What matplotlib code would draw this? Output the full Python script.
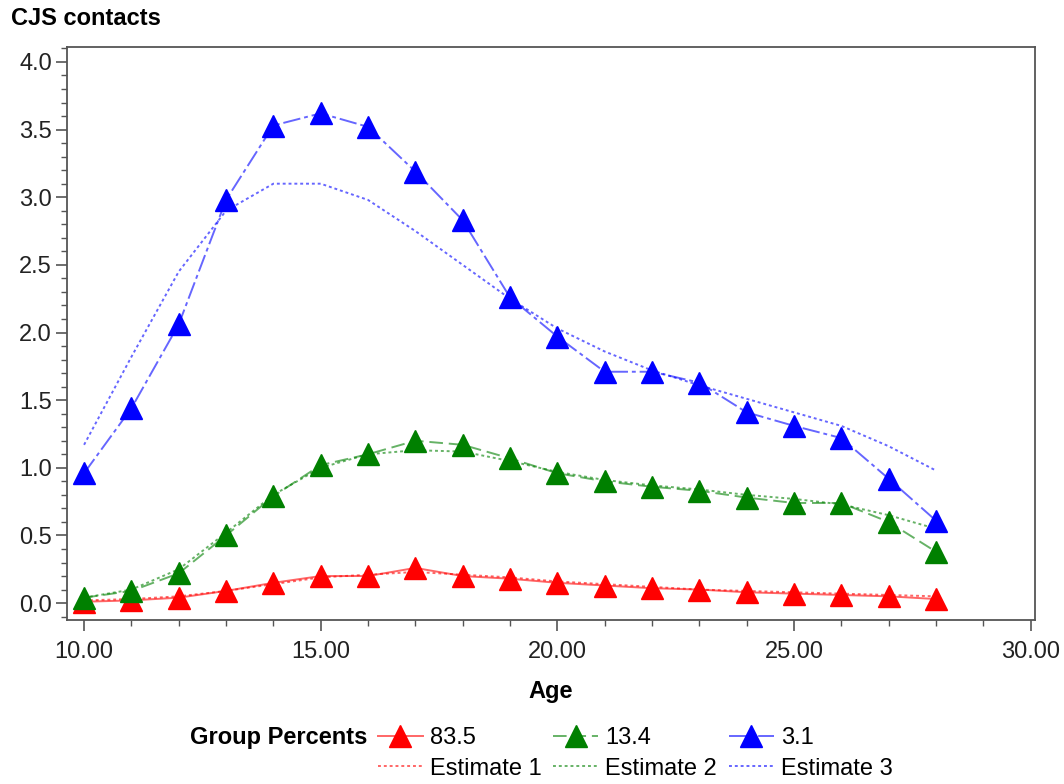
import matplotlib
matplotlib.use("Agg")
import matplotlib.pyplot as plt
from matplotlib.lines import Line2D
from matplotlib.ticker import MultipleLocator, FormatStrFormatter

plt.rcParams['font.family'] = ['Liberation Sans', 'DejaVu Sans']

age = [10, 11, 12, 13, 14, 15, 16, 17, 18, 19, 20, 21, 22, 23, 24, 25, 26, 27, 28]

# observed group trajectories
obs_835 = [0.01, 0.02, 0.04, 0.09, 0.15, 0.20, 0.20, 0.26, 0.20, 0.18, 0.15, 0.13,
           0.11, 0.10, 0.08, 0.07, 0.06, 0.05, 0.03]
obs_134 = [0.04, 0.09, 0.22, 0.50, 0.79, 1.02, 1.10, 1.20, 1.17, 1.07, 0.96, 0.90,
           0.86, 0.83, 0.78, 0.74, 0.74, 0.60, 0.38]
obs_31 = [0.96, 1.44, 2.06, 2.98, 3.53, 3.62, 3.52, 3.19, 2.83, 2.26, 1.97, 1.71,
          1.71, 1.63, 1.41, 1.31, 1.22, 0.92, 0.61]

# model estimates
est_1 = [0.02, 0.03, 0.05, 0.09, 0.14, 0.19, 0.21, 0.23, 0.21, 0.19, 0.16, 0.14,
         0.12, 0.10, 0.09, 0.08, 0.07, 0.06, 0.05]
est_2 = [0.04, 0.10, 0.25, 0.52, 0.80, 1.00, 1.10, 1.13, 1.12, 1.05, 0.97, 0.91,
         0.87, 0.84, 0.80, 0.77, 0.73, 0.65, 0.55]
est_3 = [1.17, 1.82, 2.45, 2.90, 3.10, 3.10, 2.98, 2.75, 2.50, 2.25, 2.03, 1.86,
         1.72, 1.61, 1.51, 1.41, 1.31, 1.16, 0.98]

group_labels = ["83.5", "13.4", "3.1"]
est_labels = ["Estimate 1", "Estimate 2", "Estimate 3"]

colors = [(1.0, 0.0, 0.0), (0.0, 0.5, 0.0), (0.0, 0.0, 1.0)]
obs_styles = ['-', (0, (7, 3)), (0, (9, 2, 2, 2))]
line_alpha = 0.6
FS = 17

fig = plt.figure(figsize=(10.64, 7.84), dpi=100)
ax = fig.add_axes([0.063, 0.209, 0.910, 0.731])

# estimates (dotted) first, observed on top
for est, c in zip([est_1, est_2, est_3], colors):
    ax.plot(age, est, color=c + (line_alpha,), linestyle=(0, (1.5, 1.5)), linewidth=1.4)

for obs, c, ls in zip([obs_835, obs_134, obs_31], colors, obs_styles):
    ax.plot(age, obs, color=c + (line_alpha,), linestyle=ls, linewidth=1.4)
    ax.plot(age, obs, linestyle='none', marker='^', markersize=16,
            markerfacecolor=c, markeredgecolor=c)

ax.set_xlim(9.64, 30.1)
ax.set_ylim(-0.126, 4.11)
ax.xaxis.set_major_locator(MultipleLocator(5))
ax.xaxis.set_minor_locator(MultipleLocator(1))
ax.yaxis.set_major_locator(MultipleLocator(0.5))
ax.yaxis.set_minor_locator(MultipleLocator(0.1))
ax.xaxis.set_major_formatter(FormatStrFormatter('%.2f'))
ax.yaxis.set_major_formatter(FormatStrFormatter('%.1f'))

tick_col = '#555555'
ax.tick_params(which='major', direction='out', length=8, width=1.2, color=tick_col,
               labelsize=FS, labelcolor='#222222', pad=3)
ax.tick_params(which='minor', direction='out', length=4, width=1.0, color=tick_col)
ax.tick_params(axis='x', which='major', pad=7)
for s in ax.spines.values():
    s.set_color('#555555')
    s.set_linewidth(1.3)

ax.set_xlabel('Age', fontsize=FS, fontweight='bold', labelpad=12)
fig.text(0.010, 0.977, 'CJS contacts', fontsize=17, fontweight='bold',
         ha='left', va='center')

# legend: observed groups in first row, estimates in second row
leg_handles = []
leg_labels = []
for i in range(3):
    leg_handles.append(Line2D([], [], color=colors[i] + (line_alpha,), linestyle=obs_styles[i],
                              linewidth=1.4, marker='^', markersize=16,
                              markerfacecolor=colors[i], markeredgecolor=colors[i]))
    leg_labels.append(group_labels[i])
    leg_handles.append(Line2D([], [], color=colors[i] + (line_alpha,),
                              linestyle=(0, (1.5, 1.5)), linewidth=1.4))
    leg_labels.append(est_labels[i])

fig.legend(leg_handles, leg_labels, ncol=3, loc='center left',
           bbox_to_anchor=(0.355, 0.039), frameon=False, fontsize=FS,
           handlelength=1.9, handletextpad=0.3, columnspacing=0.5,
           labelspacing=0.35, borderaxespad=0, borderpad=0)
fig.text(0.345, 0.059, 'Group Percents', fontsize=FS, fontweight='bold',
         ha='right', va='center')

fig.savefig('out.png', dpi=100)
